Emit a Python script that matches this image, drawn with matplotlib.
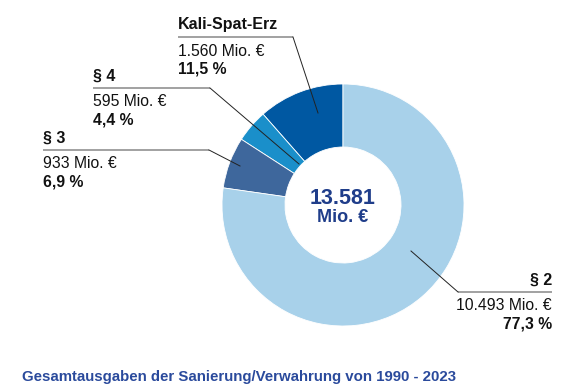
import matplotlib.pyplot as plt

plt.rcParams['font.family'] = ['Liberation Sans', 'DejaVu Sans']

# data
names = ['Kali-Spat-Erz', '§ 4', '§ 3', '§ 2']
amounts = [1560, 595, 933, 10493]          # Mio. €
amount_labels = ['1.560 Mio. €', '595 Mio. €', '933 Mio. €', '10.493 Mio. €']
share_labels = ['11,5 %', '4,4 %', '6,9 %', '77,3 %']
total_label = '13.581'
colors = ['#0058a2', '#1a8fca', '#3e679c', '#a8d1ea']

W, H = 568, 385
fig = plt.figure(figsize=(W / 100, H / 100), dpi=100)
ax = fig.add_axes([0, 0, 1, 1])

# y axis inverted -> mirror the angles
ax.pie(amounts, colors=colors, center=(343, 205), radius=121,
       startangle=-90, counterclock=False,
       wedgeprops=dict(width=63, edgecolor='white', linewidth=0.6))
ax.set_xlim(0, W)
ax.set_ylim(H, 0)
ax.set_aspect('equal')
ax.axis('off')

# label layout: (text x, head y, line end x of underline, leader end, align)
layout = [
    (178, 25, 293, (318, 113), 'left'),
    (93, 76, 210, (299, 164), 'left'),
    (43, 138, 209, (240, 166), 'left'),
    (552, 280, 458, (411, 251), 'right'),
]

for i, (tx, ty, lx, end, ha) in enumerate(layout):
    ax.text(tx, ty, names[i], fontsize=11.5, fontweight='bold', color='#111111',
            ha=ha, va='center')
    ly = ty + 12
    ax.plot([tx, lx], [ly, ly], color='#9a9a9a', lw=1.3, solid_capstyle='butt')
    ax.plot([lx, end[0]], [ly, end[1]], color='#222222', lw=0.7)
    ax.text(tx, ly + 14, amount_labels[i], fontsize=11.3, color='#111111',
            ha=ha, va='center')
    ax.text(tx, ly + 32, share_labels[i], fontsize=11.3, fontweight='bold',
            color='#111111', ha=ha, va='center')

# centre
ax.text(343, 198, total_label, fontsize=15.5, fontweight='bold', color='#1f3d8a',
        ha='center', va='center')
ax.text(343, 218, 'Mio. €', fontsize=13, fontweight='bold', color='#1f3d8a',
        ha='center', va='center')

ax.text(22, 377, 'Gesamtausgaben der Sanierung/Verwahrung von 1990 - 2023',
        fontsize=10.8, fontweight='bold', color='#2a4a9c', ha='left', va='center')

fig.savefig('out.png', dpi=100)
